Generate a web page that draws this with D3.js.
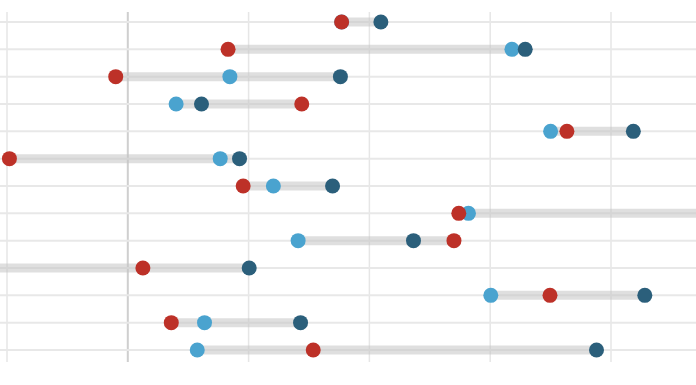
<!DOCTYPE html>
<html>
<head>
<meta charset="utf-8">
<script src="https://cdn.jsdelivr.net/npm/d3@7"></script>
<style>
  body { margin: 0; background: #fff; }
  svg { display: block; }
</style>
</head>
<body>
<div id="chart"></div>
<script>
// rows, top to bottom
const rows = ['r1', 'r2', 'r3', 'r4', 'r5', 'r6', 'r7', 'r8', 'r9', 'r10', 'r11', 'r12', 'r13'];
const lightVals = [35.4, 63.6, 16.9, 8.0, 70.0, 15.3, 24.1, 56.4, 28.2, -28, 60.1, 12.7, 11.5];
const darkVals = [41.9, 65.8, 35.2, 12.2, 83.7, 18.5, 33.9, 105, 47.3, 20.1, 85.6, 28.6, 77.6];
const redVals = [35.4, 16.6, -2.0, 28.8, 72.7, -19.6, 19.1, 54.8, 54.0, 2.5, 69.9, 7.2, 30.7];
const xTicks = [-20, 0, 20, 40, 60, 80];

const width = 696;
const height = 385;

const svg = d3.select('#chart')
  .append('svg')
  .attr('width', width)
  .attr('height', height);

const x = d3.scaleLinear()
  .domain([-20, 80])
  .range([7, 611]);

const y = d3.scalePoint()
  .domain(rows)
  .range([22, 350]);

// vertical grid
svg.selectAll('.vgrid')
  .data(xTicks)
  .enter()
  .append('line')
  .attr('x1', d => x(d))
  .attr('x2', d => x(d))
  .attr('y1', 12)
  .attr('y2', 362)
  .style('stroke', d => d === 0 ? '#cfcfcf' : '#e6e6e6')
  .style('stroke-width', d => d === 0 ? 2 : 1.5);

// horizontal grid
svg.selectAll('.hgrid')
  .data(rows)
  .enter()
  .append('line')
  .attr('x1', 0)
  .attr('x2', width)
  .attr('y1', d => y(d))
  .attr('y2', d => y(d))
  .style('stroke', '#e8e8e8')
  .style('stroke-width', 2);

const data = rows.map((r, i) => ({
  row: r,
  light: lightVals[i],
  dark: darkVals[i],
  red: redVals[i]
}));

// range bars
svg.selectAll('.bar')
  .data(data)
  .enter()
  .append('line')
  .attr('x1', d => x(Math.min(d.light, d.dark, d.red)))
  .attr('x2', d => x(Math.max(d.light, d.dark, d.red)))
  .attr('y1', d => y(d.row))
  .attr('y2', d => y(d.row))
  .style('stroke', '#c4c4c4')
  .style('stroke-opacity', 0.55)
  .style('stroke-width', 9);

const series = [
  {key: 'light', color: '#4aa3cf'},
  {key: 'dark', color: '#2b5f7b'},
  {key: 'red', color: '#bd3128'}
];

series.forEach(s => {
  svg.selectAll('.dot-' + s.key)
    .data(data)
    .enter()
    .append('circle')
    .attr('cx', d => x(d[s.key]))
    .attr('cy', d => y(d.row))
    .attr('r', 7.5)
    .style('fill', s.color);
});
</script>
</body>
</html>
